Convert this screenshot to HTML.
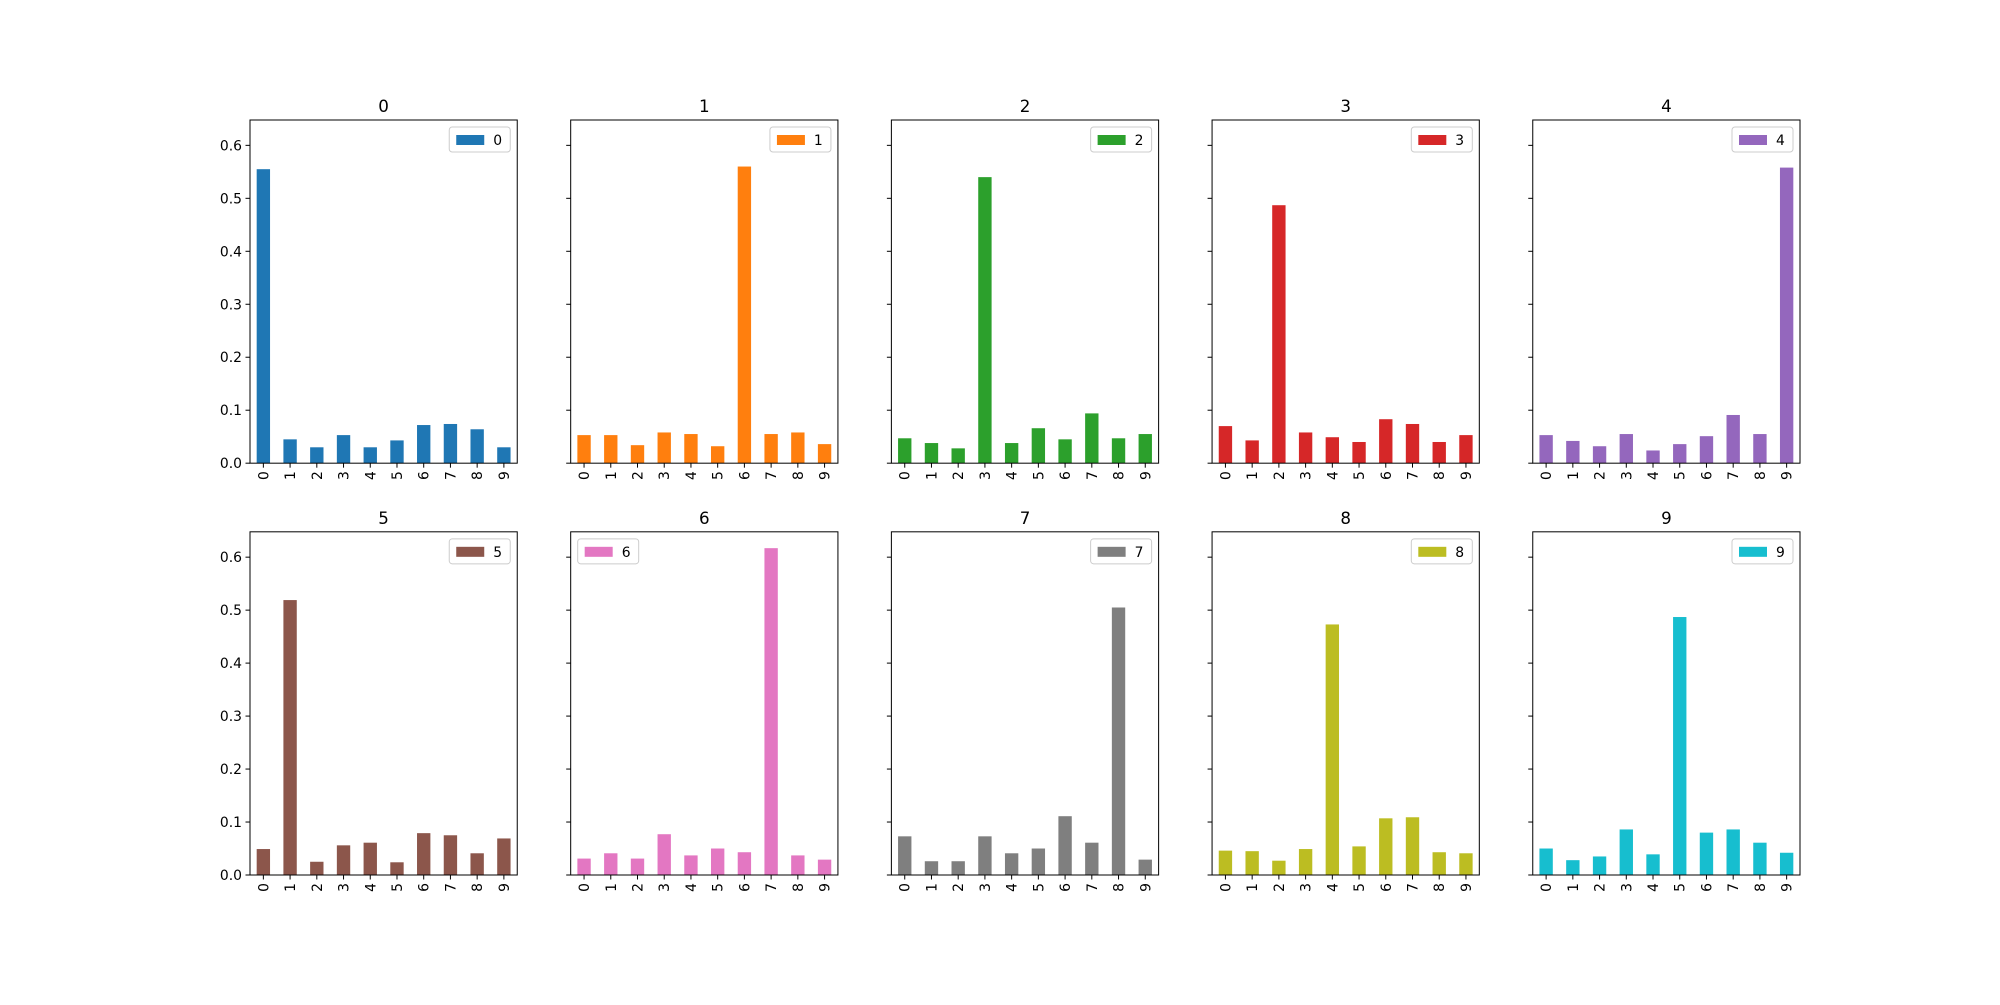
<!DOCTYPE html>
<html><head><meta charset="utf-8"><style>
body{margin:0;background:#fff}
svg text{font-family:"DejaVu Sans","Liberation Sans",sans-serif;fill:#000}
</style></head><body>
<svg id="fig" width="2000" height="1000" xmlns="http://www.w3.org/2000/svg"></svg>
<script>
const categories = ['0','1','2','3','4','5','6','7','8','9'];
const panelTitles = ['0','1','2','3','4','5','6','7','8','9'];
const colors = ['#1f77b4','#ff7f0e','#2ca02c','#d62728','#9467bd','#8c564b','#e377c2','#7f7f7f','#bcbd22','#17becf'];
const s0 = [0.555,0.045,0.030,0.053,0.030,0.043,0.072,0.074,0.064,0.030];
const s1 = [0.053,0.053,0.034,0.058,0.055,0.032,0.560,0.055,0.058,0.036];
const s2 = [0.047,0.038,0.028,0.540,0.038,0.066,0.045,0.094,0.047,0.055];
const s3 = [0.070,0.043,0.487,0.058,0.049,0.040,0.083,0.074,0.040,0.053];
const s4 = [0.053,0.042,0.032,0.055,0.024,0.036,0.051,0.091,0.055,0.558];
const s5 = [0.049,0.519,0.025,0.056,0.061,0.024,0.079,0.075,0.041,0.069];
const s6 = [0.031,0.041,0.031,0.077,0.037,0.050,0.043,0.617,0.037,0.029];
const s7 = [0.073,0.026,0.026,0.073,0.041,0.050,0.111,0.061,0.505,0.029];
const s8 = [0.046,0.045,0.027,0.049,0.473,0.054,0.107,0.109,0.043,0.041];
const s9 = [0.050,0.028,0.035,0.086,0.039,0.487,0.080,0.086,0.061,0.042];
const series = [s0,s1,s2,s3,s4,s5,s6,s7,s8,s9];
const yTicks = [0.0,0.1,0.2,0.3,0.4,0.5,0.6];
const yTickLabels = ['0.0','0.1','0.2','0.3','0.4','0.5','0.6'];

const NS='http://www.w3.org/2000/svg';
const svg=document.getElementById('fig');
function mk(tag,attrs,parent){const e=document.createElementNS(NS,tag);for(const k in attrs)e.setAttribute(k,attrs[k]);(parent||svg).appendChild(e);return e;}
const W=1550/(5+4*0.2), H=755/(2+0.2);
const allMax=Math.max(...series.flat());
const yMax=allMax*1.05;
for(let p=0;p<10;p++){
  const col=p%5,row=Math.floor(p/5);
  const x0=250+col*W*1.2, y0=120+row*H*1.2;
  const g=mk('g',{});
  
  
  const xs=i=>x0+(i+0.5)/10*W;
  const ys=v=>y0+H-v/yMax*H;
  const vals=series[p];
  vals.forEach((v,i)=>{
    const b=mk('rect',{x:xs(i)-0.25*W/10,y:ys(v),width:0.5*W/10,height:ys(0)-ys(v),fill:colors[p]},g);
    
    
  });
  mk('rect',{x:x0,y:y0,width:W,height:H,fill:'none',stroke:'#000','stroke-width':1},g);
  categories.forEach((c,i)=>{
    mk('line',{x1:xs(i),x2:xs(i),y1:y0+H,y2:y0+H+4.5,stroke:'#000'},g);
    const t=mk('text',{x:0,y:0,'font-size':13.9,'text-anchor':'end',transform:`translate(${xs(i)+5},${y0+H+8}) rotate(-90)`},g);
    t.textContent=c;
    
    
  });
  yTicks.forEach((v,k)=>{
    mk('line',{x1:x0-4.5,x2:x0,y1:ys(v),y2:ys(v),stroke:'#000'},g);
    if(col===0){
      const t=mk('text',{x:x0-8,y:ys(v)+5,'font-size':13.9,'text-anchor':'end'},g);
      t.textContent=yTickLabels[k];
      
      
    }
  });
  const tt=mk('text',{x:x0+W/2,y:y0-8,'font-size':16.7,'text-anchor':'middle'},g);
  tt.textContent=panelTitles[p];
  
  
  const lw=61,lh=25;
  const lx= p===6 ? x0+7 : x0+W-7-lw, ly=y0+7;
  const lg=mk('g',{},g);
  
  
  mk('rect',{x:lx,y:ly,width:lw,height:lh,rx:3,fill:'#fff','fill-opacity':0.8,stroke:'#ccc'},lg);
  mk('rect',{x:lx+7,y:ly+8,width:28,height:10,fill:colors[p]},lg);
  const lt=mk('text',{x:lx+44,y:ly+18,'font-size':13.9},lg);
  lt.textContent=panelTitles[p];
}
</script>
</body></html>
